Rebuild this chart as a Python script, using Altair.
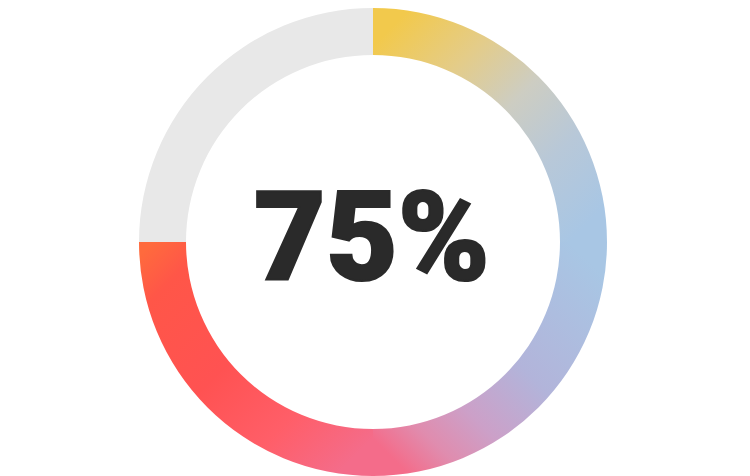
import altair as alt
import pandas as pd

# ---- data ----
segment_name = ["q1", "q2", "q3", "rest"]
segment_start = [0, 25, 50, 75]
segment_end = [25, 50, 75, 100]
center_label = ["75%"]

df = pd.DataFrame({"segment": segment_name, "start": segment_start, "end": segment_end})
lab = pd.DataFrame({"label": center_label})

theta_scale = alt.Scale(domain=[0, 100], range=[0, 6.283185307179586])

OUTER = 234
INNER = 187
CX, CY = 365, 234


def grad(x1, y1, x2, y2, stops):
    return alt.LinearGradient(
        gradient="linear", x1=x1, y1=y1, x2=x2, y2=y2,
        stops=[alt.GradientStop(offset=o, color=c) for o, c in stops],
    )


def seg(name, color):
    return (
        alt.Chart(df)
        .transform_filter(alt.datum.segment == name)
        .mark_arc(radius=OUTER, radius2=INNER, color=color)
        .encode(
            theta=alt.Theta("start:Q", scale=theta_scale),
            theta2="end:Q",
            x=alt.value(CX),
            y=alt.value(CY),
        )
    )


q1 = seg("q1", grad(0, 0, 1, 1, [(0.08, "#f2c94c"), (0.3, "#e4cc88"), (0.5, "#cdcdc2"), (0.7, "#b8c8d8"), (0.92, "#a8c6e4")]))
q2 = seg("q2", grad(1, 0, 0, 1, [(0.08, "#a8c6e4"), (0.45, "#b2b4da"), (0.66, "#cca0c8"), (0.8, "#e08cae"), (0.92, "#f46c8a")]))
q3 = seg("q3", grad(1, 1, 0, 0, [(0.08, "#f46c8a"), (0.3, "#ff5e68"), (0.55, "#ff5252"), (0.85, "#ff5648"), (0.97, "#ff6a3d")]))
rest = seg("rest", "#e8e8e8")

text = (
    alt.Chart(lab)
    .mark_text(font="Roboto", fontWeight=900, fontSize=124, color="#2a2a2a",
               stroke="#2a2a2a", strokeWidth=2,
               align="center", baseline="alphabetic")
    .encode(text="label:N", x=alt.value(364), y=alt.value(272))
)

chart = (
    alt.layer(rest, q1, q2, q3, text)
    .properties(width=730, height=468, padding=0, autosize="none")
    .configure_view(strokeWidth=0)
)

chart.save("out.html", embed_options={"renderer": "svg", "actions": False})
